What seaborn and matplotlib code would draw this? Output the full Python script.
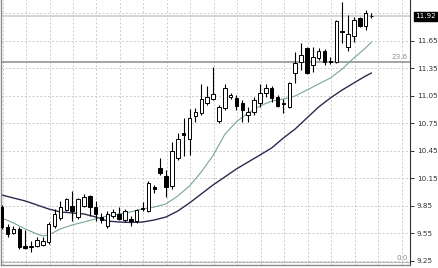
import numpy as np
import pandas as pd
import matplotlib
matplotlib.use("Agg")
import matplotlib.pyplot as plt
import matplotlib.transforms as mtransforms
import seaborn as sns

# ---- candle data ----
open_ = [9.839, 9.621, 9.555, 9.599, 9.414, 9.414, 9.414, 9.425, 9.457, 9.632,
         9.719, 9.806, 9.850, 9.730, 9.850, 9.959, 9.839, 9.730, 9.632, 9.741,
         9.763, 9.697, 9.708, 9.686, 9.817, 9.795, 10.057, 10.265, 10.177, 10.068,
         10.374, 10.646, 10.581, 10.832, 10.865, 10.974, 11.017, 10.777, 10.919, 11.039,
         11.028, 10.974, 10.843, 10.875, 10.974, 11.083, 11.137, 11.039, 10.974, 10.930,
         11.301, 11.421, 11.574, 11.388, 11.464, 11.541, 11.432, 11.421, 11.759, 11.585,
         11.705, 11.901, 11.814, 11.920]
high = [9.861, 9.654, 9.632, 9.621, 9.588, 9.468, 9.512, 9.512, 9.675, 9.817,
        9.905, 9.937, 10.014, 9.937, 9.981, 9.970, 9.905, 9.774, 9.795, 9.817,
        9.839, 9.817, 9.741, 9.817, 9.894, 10.123, 10.079, 10.374, 10.243, 10.548,
        10.646, 10.810, 10.908, 10.919, 11.181, 11.159, 11.366, 10.952, 11.181, 11.083,
        11.061, 11.006, 10.930, 11.039, 11.181, 11.181, 11.159, 11.061, 11.017, 11.203,
        11.530, 11.628, 11.585, 11.585, 11.574, 11.563, 11.475, 11.879, 12.075, 11.934,
        11.912, 11.912, 11.988, 11.955]
low = [9.599, 9.512, 9.545, 9.381, 9.381, 9.348, 9.403, 9.414, 9.435, 9.610,
       9.697, 9.795, 9.686, 9.708, 9.839, 9.741, 9.686, 9.665, 9.610, 9.719,
       9.697, 9.675, 9.632, 9.665, 9.795, 9.785, 9.992, 10.188, 9.948, 10.035,
       10.352, 10.395, 10.406, 10.766, 10.843, 10.952, 11.006, 10.755, 10.897, 11.017,
       10.897, 10.766, 10.766, 10.843, 10.930, 11.039, 10.985, 10.930, 10.865, 10.919,
       11.192, 11.334, 11.290, 11.312, 11.443, 11.388, 11.399, 11.410, 11.628, 11.541,
       11.639, 11.803, 11.770, 11.901]
close = [9.621, 9.545, 9.599, 9.403, 9.392, 9.403, 9.479, 9.468, 9.654, 9.763,
         9.839, 9.926, 9.795, 9.926, 9.948, 9.839, 9.763, 9.697, 9.763, 9.785,
         9.708, 9.795, 9.686, 9.806, 9.828, 10.101, 10.035, 10.210, 10.057, 10.450,
         10.581, 10.625, 10.810, 10.875, 11.017, 11.039, 11.072, 10.930, 11.137, 11.061,
         10.941, 10.897, 10.875, 11.006, 11.083, 11.137, 11.028, 10.941, 10.963, 11.192,
         11.410, 11.497, 11.301, 11.475, 11.541, 11.421, 11.421, 11.868, 11.748, 11.726,
         11.879, 11.814, 11.950, 11.921]

# ---- moving averages (read at selected bars) ----
ma_fast_bar = [0, 2, 4, 6, 7, 8, 10, 12, 14, 16, 18, 20, 22, 24, 26, 28, 30, 32, 34,
               36, 38, 40, 42, 44, 46, 48, 50, 52, 54, 56, 58, 60, 62, 63]
ma_fast = [9.719, 9.665, 9.599, 9.545, 9.523, 9.534, 9.599, 9.643, 9.675, 9.708,
           9.741, 9.763, 9.785, 9.817, 9.839, 9.872, 9.959, 10.068, 10.221, 10.400,
           10.630, 10.770, 10.865, 10.941, 10.995, 11.017, 11.050, 11.115, 11.181, 11.246,
           11.344, 11.464, 11.574, 11.639]
ma_slow_bar = [0, 2, 4, 6, 8, 10, 12, 14, 16, 18, 20, 22, 24, 26, 28, 30, 32, 34,
               36, 38, 40, 42, 44, 46, 48, 50, 52, 54, 56, 58, 60, 62, 63]
ma_slow = [9.970, 9.937, 9.905, 9.861, 9.817, 9.785, 9.774, 9.763, 9.730, 9.686,
           9.675, 9.670, 9.675, 9.697, 9.730, 9.795, 9.883, 9.981, 10.079, 10.166,
           10.254, 10.330, 10.406, 10.483, 10.592, 10.690, 10.810, 10.930, 11.028, 11.115,
           11.192, 11.268, 11.301]

# ---- axis / annotation values ----
price_ticks = [9.25, 9.55, 9.85, 10.15, 10.45, 10.75, 11.05, 11.35, 11.65]
grid_prices = [9.25, 9.55, 9.85, 10.15, 10.45, 10.75, 11.05, 11.35, 11.65, 11.95]
last_price = 11.92
fib_levels = [11.421, 9.24]
fib_labels = ["23.6", "0.0"]

sns.set_theme(style="white")
plt.rcParams['font.family'] = ['DejaVu Sans']

W, H = 439, 268
fig = plt.figure(figsize=(W / 100, H / 100), dpi=100)
fig.patch.set_facecolor("white")
ax = fig.add_axes([1.5 / W, 3 / H, (410 - 1.5) / W, 265 / H])
ax.set_facecolor("white")

n = len(open_)
idx = np.arange(n)
df = pd.DataFrame({"bar": idx, "open": open_, "high": high, "low": low, "close": close})

# grid
for g in grid_prices:
    ax.axhline(g, color="#cccccc", lw=0.7, ls=(0, (2, 2)), zorder=0)
for k in range(0, 18):
    ax.axvline(4 * k + 0.15, color="#cccccc", lw=0.7, ls=(0, (2, 2)), zorder=0)

# current price line and fibonacci levels
ax.axhline(last_price, color="#d2d2d2", lw=1.3, zorder=1)
ax.axhline(fib_levels[0], color="#8c8c8c", lw=1.1, zorder=1)
ax.axhline(fib_levels[1], color="#b8b8b8", lw=0.8, zorder=1)

# moving averages
sns.lineplot(x=ma_slow_bar, y=ma_slow, ax=ax, color="#2b2b4e", lw=1.0, zorder=2)
sns.lineplot(x=ma_fast_bar, y=ma_fast, ax=ax, color="#78a596", lw=0.8, zorder=2)

# candles
up = df["close"] >= df["open"]
ax.vlines(df["bar"], df["low"], df["high"], color="black", lw=0.8, zorder=3)
bottoms = np.minimum(df["open"], df["close"])
heights = np.maximum(np.abs(df["close"] - df["open"]), 0.006)
ax.bar(df["bar"], heights, bottom=bottoms, width=0.6,
       color=np.where(up, "white", "black"), edgecolor="black", linewidth=0.7, zorder=4)

ax.set_xlim(-0.034, 69.56)
ax.set_ylim(9.206, 12.097)

# axes styling
ax.yaxis.tick_right()
ax.set_yticks(price_ticks)
ax.set_yticklabels([f"{p:.2f}" for p in price_ticks])
ax.tick_params(axis="y", direction="out", length=3, width=0.7, color="#333333",
               labelsize=5.2, labelcolor="#333333", pad=2)
ax.set_xticks(np.arange(0, 70, 8) + 0.1)
ax.set_xticklabels([])
ax.tick_params(axis="x", direction="out", length=3, width=0.7, color="#666666")
ax.grid(False)
ax.spines["top"].set_visible(False)
ax.spines["left"].set_color("#8a8a8a")
ax.spines["left"].set_linewidth(1.0)
ax.spines["bottom"].set_color("#8a8a8a")
ax.spines["bottom"].set_linewidth(1.0)
ax.spines["right"].set_color("#333333")
ax.spines["right"].set_linewidth(0.8)

# last price box
trans = mtransforms.blended_transform_factory(ax.transAxes, ax.transData)
ax.text(1.012, last_price, f"{last_price:.2f}", transform=trans, ha="left", va="center",
        fontsize=5.2, color="white", clip_on=False,
        bbox=dict(facecolor="black", edgecolor="black", boxstyle="square,pad=0.18"))

# fibonacci labels
ax.text(69.2, fib_levels[0] + 0.02, fib_labels[0], ha="right", va="bottom",
        fontsize=5.2, color="#8c8c8c")
ax.text(69.2, fib_levels[1] + 0.005, fib_labels[1], ha="right", va="bottom",
        fontsize=5.2, color="#8c8c8c")

fig.savefig("out.png", dpi=100)
